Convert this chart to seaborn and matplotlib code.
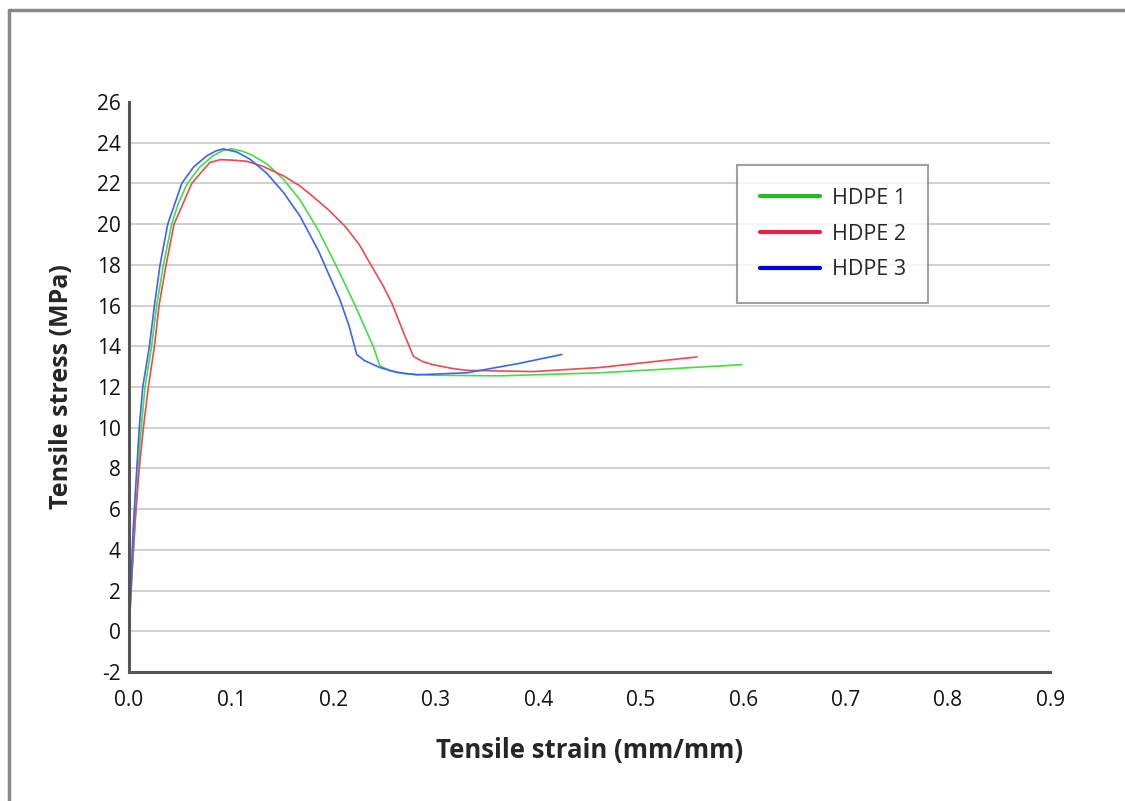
import matplotlib
matplotlib.use("Agg")
import matplotlib.pyplot as plt
import seaborn as sns
import pandas as pd
from matplotlib.lines import Line2D

# HDPE 1
strain_1 = [0.0, 0.002, 0.005, 0.008, 0.011, 0.0156, 0.022, 0.027, 0.0336, 0.0417, 0.048,
            0.057, 0.069, 0.082, 0.092, 0.100, 0.110, 0.120, 0.135, 0.151, 0.167, 0.185,
            0.203, 0.221, 0.239, 0.245, 0.255, 0.270, 0.297, 0.363, 0.460, 0.530, 0.599]
stress_1 = [0.0, 2.0, 4.5, 7.0, 9.5, 12.0, 14.0, 16.0, 18.0, 20.0, 21.0,
            22.0, 22.8, 23.36, 23.62, 23.7, 23.6, 23.4, 22.95, 22.2, 21.2, 19.7,
            17.9, 16.0, 13.95, 13.05, 12.8, 12.65, 12.58, 12.55, 12.7, 12.9, 13.1]

# HDPE 2
strain_2 = [0.0, 0.003, 0.006, 0.010, 0.014, 0.0189, 0.0248, 0.0293, 0.0362, 0.044, 0.0613,
            0.069, 0.079, 0.089, 0.100, 0.115, 0.131, 0.151, 0.167, 0.180, 0.195, 0.211,
            0.225, 0.2375, 0.248, 0.257, 0.268, 0.278, 0.287, 0.297, 0.315, 0.330, 0.395,
            0.460, 0.555]
stress_2 = [0.0, 3.0, 5.5, 8.0, 10.0, 12.0, 14.0, 16.0, 18.0, 20.0, 22.0,
            22.46, 23.03, 23.17, 23.15, 23.09, 22.84, 22.37, 21.88, 21.35, 20.7, 19.9,
            19.0, 17.9, 17.0, 16.1, 14.7, 13.5, 13.25, 13.1, 12.92, 12.82, 12.76,
            12.96, 13.48]

# HDPE 3
strain_3 = [0.0, 0.002, 0.004, 0.007, 0.010, 0.0134, 0.0199, 0.0248, 0.0303, 0.0378, 0.0515,
            0.0629, 0.076, 0.085, 0.092, 0.105, 0.118, 0.1346, 0.151, 0.167, 0.185, 0.206,
            0.215, 0.2225, 0.230, 0.245, 0.262, 0.281, 0.330, 0.380, 0.423]
stress_3 = [0.0, 2.5, 5.0, 7.5, 10.0, 12.0, 14.0, 16.0, 18.0, 20.0, 22.0,
            22.8, 23.36, 23.6, 23.7, 23.55, 23.2, 22.5, 21.55, 20.4, 18.7, 16.3,
            15.0, 13.6, 13.3, 12.96, 12.72, 12.6, 12.7, 13.15, 13.6]

labels = ["HDPE 1", "HDPE 2", "HDPE 3"]
line_colors = ["#44dd44", "#e84b55", "#3a66ee"]
legend_colors = ["#22bb22", "#e8204a", "#0000e6"]

x_ticks = [0.0, 0.1, 0.2, 0.3, 0.4, 0.5, 0.6, 0.7, 0.8, 0.9]
y_ticks = list(range(-2, 27, 2))

frames = []
for lab, xs, ys in zip(labels, [strain_1, strain_2, strain_3], [stress_1, stress_2, stress_3]):
    frames.append(pd.DataFrame({"strain": xs, "stress": ys, "sample": lab}))
df = pd.concat(frames, ignore_index=True)

sns.set_style("white")
plt.rcParams['font.family'] = ['Open Sans', 'DejaVu Sans']

fig = plt.figure(figsize=(11.25, 8.01), dpi=100)
ax = fig.add_axes([0.1147, 0.161, 0.8187, 0.7116])

sns.lineplot(data=df, x="strain", y="stress", hue="sample", palette=line_colors,
             sort=False, estimator=None, linewidth=1.2, legend=False, ax=ax)

ax.set_xlim(0, 0.9)
ax.set_ylim(-2, 26)
ax.set_xticks(x_ticks)
ax.set_xticklabels([f"{t:.1f}" for t in x_ticks])
ax.set_yticks(y_ticks)
ax.set_yticklabels([str(t) for t in y_ticks])
ax.tick_params(axis="x", length=0, labelsize=15, pad=13, colors="#111111")
ax.tick_params(axis="y", length=0, labelsize=15, pad=6, colors="#111111")

for y in y_ticks:
    if -2 < y < 26:
        ax.axhline(y, color="#cccccc", linewidth=1.3, zorder=0)

for side in ["top", "right"]:
    ax.spines[side].set_visible(False)
for side in ["left", "bottom"]:
    ax.spines[side].set_color("#555555")
    ax.spines[side].set_linewidth(2.2)

ax.set_xlabel("Tensile strain (mm/mm)", fontsize=18.5, fontweight="bold", labelpad=19)
ax.set_ylabel("Tensile stress (MPa)", fontsize=18, fontweight="bold", labelpad=16)

handles = [Line2D([0], [0], color=c, linewidth=3) for c in legend_colors]
leg = ax.legend(handles, labels, loc="upper left", bbox_to_anchor=(0.66, 0.889),
                fontsize=15.5, frameon=True, fancybox=False, borderpad=1.05,
                labelspacing=0.68, handlelength=2.8, handletextpad=0.55,
                borderaxespad=0)
leg.get_frame().set_edgecolor("#888888")
leg.get_frame().set_linewidth(1.5)

# outer frame (top and left edges)
fig.add_artist(Line2D([0.008, 1.0], [0.987, 0.987], color="#888888", linewidth=2.5,
                      transform=fig.transFigure))
fig.add_artist(Line2D([0.008, 0.008], [0.0, 0.987], color="#888888", linewidth=2.5,
                      transform=fig.transFigure))

fig.savefig("out.png", dpi=100)
